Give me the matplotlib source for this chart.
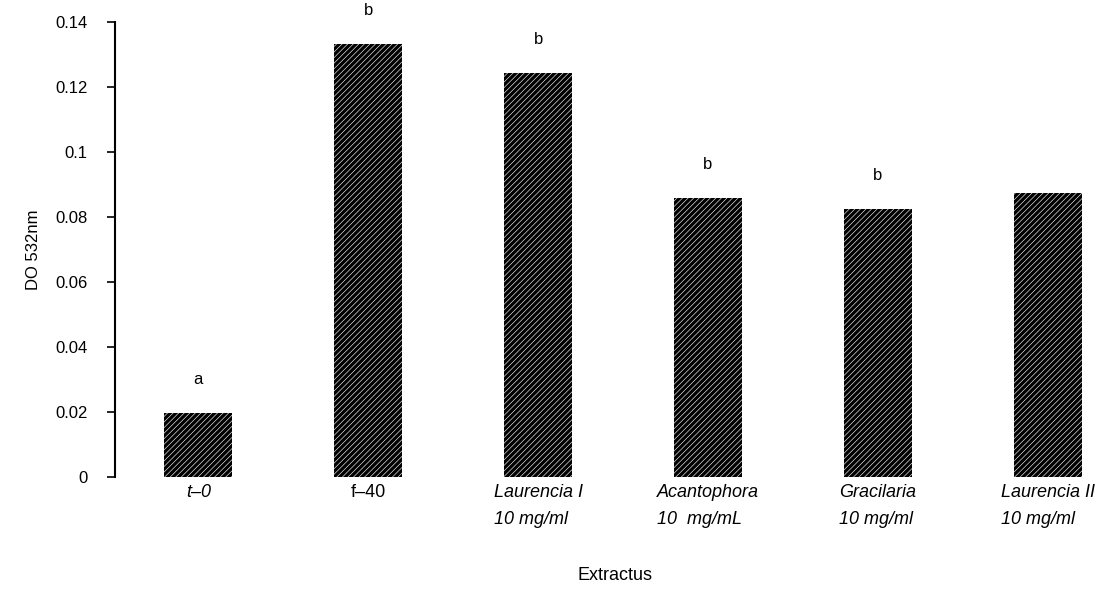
import matplotlib
matplotlib.use("Agg")
import matplotlib.pyplot as plt

categories = ["t–0", "f–40", "Laurencia I\n10 mg/ml", "Acantophora\n10  mg/mL",
              "Gracilaria\n10 mg/ml", "Laurencia II\n10 mg/ml"]
values = [0.0197, 0.1332, 0.1243, 0.0858, 0.0825, 0.0874]
letters = ["a", "b", "b", "b", "b", ""]
italic = [True, False, True, True, True, True]
yticks = [0, 0.02, 0.04, 0.06, 0.08, 0.1, 0.12, 0.14]
ytick_labels = ["0", "0.02", "0.04", "0.06", "0.08", "0.1", "0.12", "0.14"]

plt.rcParams['font.family'] = ['Liberation Sans', 'DejaVu Sans']
plt.rcParams['hatch.linewidth'] = 2.4

fig = plt.figure(figsize=(11.18, 5.92), dpi=100)
ax = fig.add_axes([0.103, 0.194, 0.895, 0.769])
x = list(range(len(categories)))
ax.bar(x, values, width=0.4, facecolor='white', edgecolor='black',
       hatch='//////', linewidth=0)
for xi, v, l in zip(x, values, letters):
    if l:
        ax.text(xi, v + 0.008, l, ha='center', va='bottom', fontsize=12)
ax.set_xlim(-0.49, 5.4)
ax.set_ylim(0, 0.14)
ax.set_yticks(yticks)
ax.set_yticklabels(ytick_labels, fontsize=12)
ax.set_xticks(x)
ax.set_xticklabels(categories, fontsize=13, linespacing=1.75)
for lab, it in zip(ax.get_xticklabels(), italic):
    lab.set_style('italic' if it else 'normal')
    lab.set_multialignment('left')
ax.tick_params(axis='x', length=0, pad=5)
ax.tick_params(axis='y', length=6, pad=14, width=1.2)
for s in ['top', 'right', 'bottom']:
    ax.spines[s].set_visible(False)
ax.spines['left'].set_linewidth(1.5)
ax.set_ylabel("DO 532nm", fontsize=12, labelpad=10)
ax.set_xlabel("Extractus", fontsize=13, labelpad=28)
fig.savefig("out.png", dpi=100)
